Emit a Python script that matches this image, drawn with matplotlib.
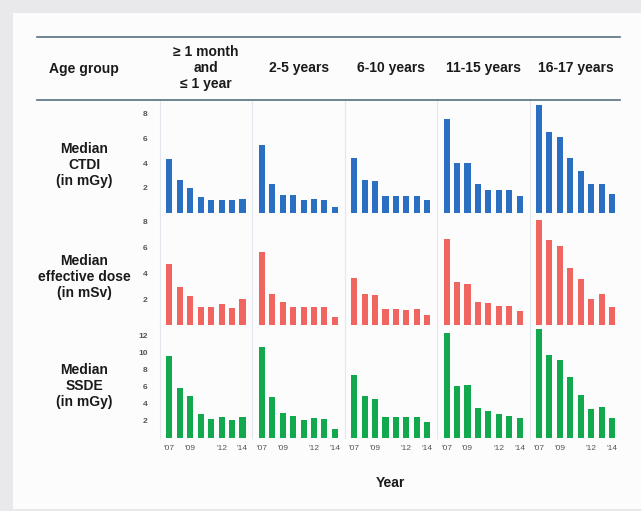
import matplotlib
matplotlib.use("Agg")
import matplotlib.pyplot as plt
from matplotlib.patches import Rectangle
from matplotlib.lines import Line2D

plt.rcParams['font.family'] = ['Liberation Sans', 'DejaVu Sans']

years = [2007, 2008, 2009, 2010, 2011, 2012, 2013, 2014]
year_tick_labels = {2007: "'07", 2009: "'09", 2012: "'12", 2014: "'14"}
age_groups = ["\u2265 1 month\nand\n\u2264 1 year", "2-5 years", "6-10 years", "11-15 years", "16-17 years"]
metrics = ["Median\nCTDI\n(in mGy)", "Median\neffective dose\n(in mSv)", "Median\nSSDE\n(in mGy)"]

ctdi = [
    [4.35, 2.65, 2.0, 1.3, 1.0, 1.0, 1.0, 1.1],
    [5.45, 2.3, 1.4, 1.4, 1.0, 1.1, 1.0, 0.45],
    [4.4, 2.65, 2.6, 1.35, 1.35, 1.35, 1.35, 1.0],
    [7.6, 4.0, 4.0, 2.3, 1.8, 1.8, 1.8, 1.35],
    [8.7, 6.55, 6.1, 4.4, 3.35, 2.3, 2.3, 1.5],
]
effective_dose = [
    [4.7, 2.95, 2.25, 1.42, 1.42, 1.65, 1.34, 2.0],
    [5.65, 2.43, 1.78, 1.42, 1.42, 1.42, 1.37, 0.62],
    [3.6, 2.43, 2.33, 1.24, 1.24, 1.2, 1.24, 0.83],
    [6.65, 3.33, 3.15, 1.78, 1.7, 1.47, 1.5, 1.09],
    [8.1, 6.56, 6.07, 4.39, 3.54, 2.0, 2.38, 1.4],
]
ssde = [
    [9.6, 5.9, 4.9, 2.86, 2.2, 2.5, 2.08, 2.47],
    [10.7, 4.8, 2.98, 2.63, 2.12, 2.3, 2.2, 1.0],
    [7.37, 4.9, 4.6, 2.5, 2.5, 2.5, 2.5, 1.9],
    [12.4, 6.1, 6.27, 3.57, 3.14, 2.86, 2.63, 2.3],
    [12.8, 9.8, 9.2, 7.2, 5.1, 3.45, 3.6, 2.35],
]
data = [ctdi, effective_dose, ssde]
colors = ["#2b6fc2", "#f0655f", "#11a84e"]
ylims = [9.13, 8.65, 13.25]
yticks = [[2, 4, 6, 8], [2, 4, 6, 8], [2, 4, 6, 8, 10, 12]]

W, H = 641, 511
fig = plt.figure(figsize=(W / 100, H / 100), dpi=100)
fig.patch.set_facecolor("#e9e9ec")
bg = Rectangle((13 / W, 2 / H), 628 / W, 496 / H, transform=fig.transFigure,
               facecolor="#fcfcfd", edgecolor="none", zorder=-10)
fig.add_artist(bg)

left, right = 160 / W, 622 / W
top, bottom = 1 - 100 / H, 1 - 438 / H
gs = fig.add_gridspec(3, 5, left=left, right=right, top=top, bottom=bottom, wspace=0, hspace=0)

for r in range(3):
    for c in range(5):
        ax = fig.add_subplot(gs[r, c])
        ax.set_zorder(1)
        ax.set_facecolor("none")
        ax.bar(years, data[r][c], width=0.58, color=colors[r], zorder=2)
        ax.set_xlim(years[0] - 0.9, years[-1] + 0.95)
        ax.set_ylim(0, ylims[r])
        for s in ["top", "right", "bottom"]:
            ax.spines[s].set_visible(False)
        ax.spines["left"].set_color("#e3e8ee")
        ax.spines["left"].set_linewidth(0.8)
        ax.tick_params(length=0)
        if c == 0:
            ax.set_yticks(yticks[r])
            ax.set_yticklabels([str(v) for v in yticks[r]], fontsize=6, color="#555555",
                               fontweight="bold")
            ax.tick_params(axis="y", pad=9)
        else:
            ax.set_yticks([])
        if r == 2:
            tk = list(year_tick_labels.keys())
            ax.set_xticks(tk)
            ax.set_xticklabels([year_tick_labels[k] for k in tk], fontsize=6, color="#555555")
            ax.tick_params(axis="x", pad=5)
        else:
            ax.set_xticks([])

# header lines
for yy in [37, 100]:
    fig.add_artist(Line2D([37 / W, 620 / W], [1 - yy / H, 1 - yy / H], transform=fig.transFigure,
                          color="#56707e", linewidth=1.2))

fig.text(84 / W, 1 - 69 / H, "Age group", ha="center", va="center", fontsize=10, fontweight="bold",
         color="#1a1a1a")
col_w = (right - left) / 5
for c, lab in enumerate(age_groups):
    fig.text(left + col_w * (c + 0.5), 1 - 68 / H, lab, ha="center", va="center", fontsize=10,
             fontweight="bold", color="#1a1a1a", linespacing=1.15)

row_y = [165, 277, 386]
for r, lab in enumerate(metrics):
    fig.text(84 / W, 1 - row_y[r] / H, lab, ha="center", va="center", fontsize=10,
             fontweight="bold", color="#1a1a1a", linespacing=1.15)

fig.text(390 / W, 1 - 483 / H, "Year", ha="center", va="center", fontsize=10, fontweight="bold",
         color="#1a1a1a")

fig.savefig("out.png", dpi=100, facecolor=fig.get_facecolor())
